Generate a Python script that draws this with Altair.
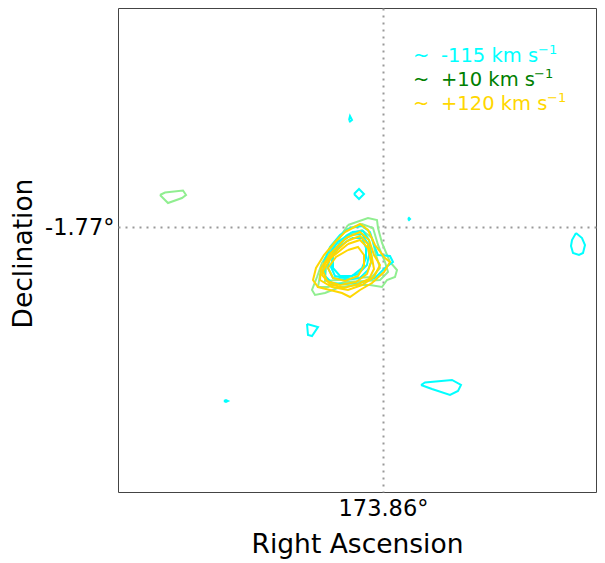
import altair as alt
import pandas as pd

# Reference position of the grid lines (degrees)
ra0 = 173.86
dec0 = -1.77

# Contours: offsets from (ra0, dec0) in arcsec (dRA positive to the east / left)
contours = {
    # light-green: +10 km/s
    "g1": ("+10", [35, 15, 6, 5, 1, -7, -14, -12, -4, 1, 13, 26, 43, 58, 68, 71, 66, 61, 53, 43],
                  [2, 9, 7, -1, -16, -35, -43, -50, -53, -60, -58, -58, -60, -66, -68, -63, -50, -36, -23, -10]),
    "g2": ("+10", [38, 21, 10, 5, -2, -5, 3, 18, 38, 55, 65, 63, 57, 48],
                  [-3, 3, -1, -18, -35, -45, -53, -54, -55, -60, -60, -48, -33, -18]),
    "g3": ("+10", [36, 21, 11, 7, 3, 11, 28, 45, 58, 57, 50],
                  [-8, -3, -11, -28, -41, -50, -51, -53, -54, -41, -25]),
    "g4": ("+10", [223, 218, 200, 197, 201, 215],
                  [32, 34.5, 36.5, 32, 29, 24]),
    # cyan: -115 km/s
    "c1": ("-115", [33, 21, 13, 9, 5, -7, -10, -2, 8, 23, 38, 51, 58, 59, 53, 43],
                   [-1, 1, -5, -18, -28, -29, -35, -41, -51, -56, -57, -56, -49, -35, -20, -8]),
    "c2": ("-115", [31, 20, 14, 12, 11, 15, 23, 38, 50, 55, 53, 45],
                   [-5, -4, -13, -25, -33, -43, -51, -53, -51, -41, -26, -15]),
    "c2b": ("-115", [32, 21, 15, 14, 16, 25, 38, 48, 52, 50, 44],
                    [-8, -7, -17, -28, -38, -47, -51, -49, -40, -27, -17]),
    "c3": ("-115", [31, 21, 17, 17, 21, 31, 43, 50, 50, 43],
                   [-11, -11, -21, -31, -41, -49, -49, -41, -29, -19]),
    "c4": ("-115", [34, 33, 31, 33], [107, 111, 107, 105.5]),
    "c5": ("-115", [29, 24, 19, 24], [33, 38, 33, 28]),
    "c6": ("-115", [-25, -26, -27, -26], [8, 9, 8, 7]),
    "c7": ("-115", [159, 157, 155, 157], [-174, -173, -174, -175]),
    "c8": ("-115", [76, 65, 71, 75], [-97, -100, -109, -108]),
    "c9": ("-115", [-38, -42, -69, -78, -75, -67, -49],
                   [-158, -155.5, -153, -158, -164, -168, -162]),
    "c10": ("-115", [-193, -199, -202, -200, -196, -190, -188, -189],
                    [-6, -11, -18, -26, -28, -26, -19, -13]),
    # gold: +120 km/s
    "y1": ("+120", [38, 23, 15, 8, -2, -7, -1, 11, 23, 33, 41, 53, 65, 70, 67, 59, 48],
                   [-5, 3, -3, -18, -31, -35, -45, -56, -63, -70, -66, -63, -60, -53, -41, -28, -15]),
    "y2": ("+120", [37, 23, 14, 9, 3, 9, 21, 35, 51, 63, 62, 53],
                   [-11, -5, -13, -28, -38, -50, -58, -63, -60, -53, -41, -27]),
    "y2b": ("+120", [36, 23, 15, 11, 9, 14, 25, 39, 53, 61, 58, 52],
                    [-14, -9, -17, -31, -42, -52, -57, -61, -57, -48, -37, -29]),
    "y3": ("+120", [35, 23, 15, 12, 16, 27, 43, 56, 60, 52],
                   [-17, -13, -21, -35, -47, -55, -58, -54, -44, -31]),
    "y4": ("+120", [35, 25, 19, 19, 25, 38, 50, 55, 47],
                   [-23, -20, -28, -39, -49, -54, -51, -41, -30]),
}

velocities = ["-115", "+10", "+120"]
line_colors = ["#00ffff", "#90ee90", "#ffd700"]
legend_main = ["-115 km s", "+10 km s", "+120 km s"]
legend_sup = "\u22121"
legend_colors = ["#00ffff", "#008000", "#ffd700"]
draw_rank = {"+10": 0, "-115": 1, "+120": 2}

rows = []
for cid, (vel, dxs, dys) in contours.items():
    pts = list(zip(dxs, dys)) + [(dxs[0], dys[0])]
    for i, (dx, dy) in enumerate(pts):
        rows.append({"cid": f"{draw_rank[vel]}_{cid}", "vel": vel, "i": i,
                     "ra": ra0 + dx / 3600.0, "dec": dec0 + dy / 3600.0})
df = pd.DataFrame(rows)

x_dom = [ra0 - 213 / 3600.0, ra0 + 265 / 3600.0]
y_dom = [dec0 - 265 / 3600.0, dec0 + 219 / 3600.0]

FONT = "DejaVu Sans"
LABEL_EXPR = "toString(round(datum.value * 100) / 100) + '°'"

common_axis = dict(grid=True, gridColor="#999999", gridDash=[2, 5], gridWidth=2,
                   ticks=False, domain=False, labelFontSize=22.5, titleFontSize=26.5,
                   titleFontWeight="normal", labelFont=FONT, titleFont=FONT,
                   labelColor="black", titleColor="black")

x_enc = alt.X("ra:Q", scale=alt.Scale(domain=x_dom, reverse=True, nice=False, zero=False),
              axis=alt.Axis(values=[ra0], labelExpr=LABEL_EXPR, title="Right Ascension",
                            labelPadding=5, titlePadding=12, **common_axis))
y_enc = alt.Y("dec:Q", scale=alt.Scale(domain=y_dom, nice=False, zero=False),
              axis=alt.Axis(values=[dec0], labelExpr=LABEL_EXPR, title="Declination",
                            labelPadding=4, titlePadding=7, titleY=245, **common_axis))

lines = alt.Chart(df).mark_line(strokeWidth=2, clip=True, interpolate="linear").encode(
    x=x_enc,
    y=y_enc,
    color=alt.Color("vel:N", scale=alt.Scale(domain=velocities, range=line_colors), legend=None),
    detail="cid:N",
    order="i:Q",
)

leg_df = pd.DataFrame({"main": legend_main, "col": legend_colors, "k": [0, 1, 2]})
sup_x = [420, 416, 429]
legend_marks = []
for k, col in enumerate(legend_colors):
    sub = leg_df[leg_df["k"] == k]
    base_y = 54 + 24 * k
    legend_marks.append(
        alt.Chart(sub).mark_text(align="left", baseline="alphabetic", font=FONT,
                                 fontSize=19.5, color=col, text="~")
        .encode(x=alt.value(295), y=alt.value(base_y))
    )
    legend_marks.append(
        alt.Chart(sub).mark_text(align="left", baseline="alphabetic", font=FONT,
                                 fontSize=19.5, color=col)
        .encode(x=alt.value(323), y=alt.value(base_y), text="main:N")
    )
    legend_marks.append(
        alt.Chart(sub).mark_text(align="left", baseline="alphabetic", font=FONT,
                                 fontSize=13, color=col, text=legend_sup)
        .encode(x=alt.value(sup_x[k]), y=alt.value(base_y - 8))
    )

chart = alt.layer(lines, *legend_marks).properties(
    width=478, height=484,
    autosize=alt.AutoSizeParams(type="none"),
    padding={"left": 110, "top": 0, "right": 1, "bottom": 70},
).configure_view(stroke="#444444", strokeWidth=1)

chart.save("out.html", embed_options={"renderer": "svg", "actions": False})
